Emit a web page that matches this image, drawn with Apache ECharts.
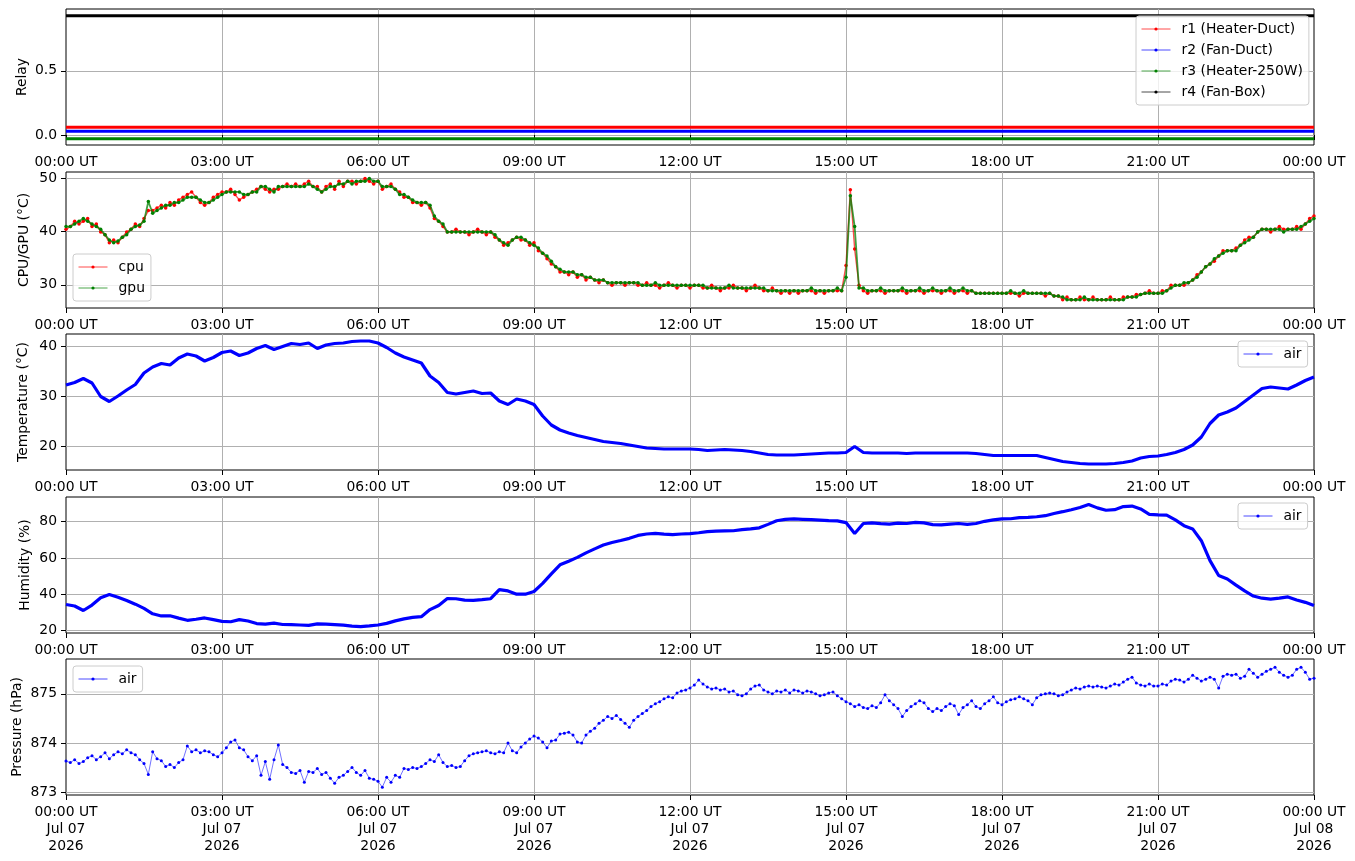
<!DOCTYPE html>
<html><head><meta charset="utf-8">
<script src="https://cdn.jsdelivr.net/npm/echarts@6/dist/echarts.min.js"></script>
<style>html,body{margin:0;padding:0;background:#fff}#c{width:1355px;height:861px}</style>
</head><body><div id="c"></div>
<script>
// ---------- DATA ----------
// sample times in minutes after 00:00 UT, Jul 07 2026
const tRelay = [0, 1440];
const t5 = Array.from({length: 289}, (_, i) => i * 5);
const t10 = Array.from({length: 145}, (_, i) => i * 10);

const relayNames = ['r1 (Heater-Duct)', 'r2 (Fan-Duct)', 'r3 (Heater-250W)', 'r4 (Fan-Box)'];
const r1 = [0.06, 0.06];
const r2 = [0.03, 0.03];
const r3 = [-0.03, -0.03];
const r4 = [0.93, 0.93];

const cpu = [
40.4,40.9,41.9,41.4,41.9,42.4,40.9,41.4,39.9,39.4,37.9,38.4,
37.9,38.9,39.9,40.4,41.4,40.9,42.4,43.9,43.9,44.4,44.9,44.4,
45.4,44.9,45.9,46.4,46.9,47.4,46.4,45.4,44.9,45.4,46.4,46.9,
47.4,47.4,47.9,46.9,45.9,46.4,46.9,47.4,47.9,48.4,47.9,47.4,
47.9,47.9,48.4,48.9,48.4,48.9,48.4,48.9,49.4,48.4,48.4,47.4,
48.4,48.9,47.9,49.4,48.4,49.4,49.4,48.9,49.4,49.9,49.4,48.9,
49.4,47.9,48.4,48.9,47.9,47.4,46.4,46.4,45.4,45.4,44.9,45.4,
44.4,42.4,41.9,40.9,39.9,39.9,40.4,39.9,39.9,39.4,39.9,40.4,
39.9,39.4,39.9,38.9,38.4,37.4,37.9,38.4,38.9,38.4,38.4,37.4,
37.9,36.4,35.9,34.9,33.9,33.4,32.4,32.4,31.9,32.4,31.4,31.9,
30.9,31.4,30.9,30.4,30.9,30.4,29.9,30.4,30.4,29.9,30.4,30.4,
29.9,29.9,30.4,29.9,29.9,29.4,29.9,30.4,29.9,29.4,29.9,29.9,
29.4,29.9,29.9,29.4,29.4,29.9,29.4,28.9,29.4,29.4,29.9,29.4,
29.4,28.9,29.4,29.9,29.4,28.9,28.9,29.4,28.9,28.4,28.9,28.4,
28.9,28.4,28.9,28.9,28.9,28.4,28.9,28.4,28.9,28.9,28.9,28.9,
33.6,47.8,36.7,29.9,28.9,28.4,28.9,28.9,28.9,28.4,28.9,28.9,
28.9,28.9,28.4,28.9,28.9,28.9,28.4,28.9,28.9,28.9,28.4,28.9,
28.9,28.4,28.9,28.9,28.4,28.9,28.4,28.4,28.4,28.4,28.4,28.4,
28.4,28.4,28.4,28.4,27.9,28.4,28.4,28.4,28.4,28.4,27.9,28.4,
27.9,27.9,27.2,27.7,27.2,27.2,27.7,27.2,27.2,27.7,27.2,27.2,
27.2,27.7,27.2,27.2,27.7,27.7,27.7,28.2,28.2,28.4,28.9,28.4,
28.4,28.9,28.9,29.9,29.9,29.9,29.9,30.4,30.9,31.9,32.4,33.4,
33.9,34.4,35.4,36.4,36.4,36.4,36.9,37.4,38.4,38.9,38.9,39.9,
40.4,40.4,39.9,40.4,40.9,40.4,40.4,40.4,40.9,40.4,41.4,42.4,
42.9];

const gpu = [
40.9,40.9,41.4,41.9,42.4,41.9,41.4,40.9,40.4,39.4,38.4,37.9,
38.2,38.9,39.4,40.4,40.9,41.2,41.9,45.6,43.4,43.9,44.4,44.9,
44.9,45.4,45.4,45.9,46.4,46.4,46.4,45.9,45.4,45.4,45.9,46.4,
46.9,47.4,47.4,47.4,47.4,46.9,46.9,47.4,47.4,48.4,48.4,47.9,
47.4,48.4,48.4,48.4,48.4,48.4,48.4,48.4,48.9,48.4,47.9,47.4,
47.9,48.4,48.4,48.9,48.9,49.4,48.9,49.4,49.4,49.4,49.9,49.4,
49.4,48.4,48.4,48.4,47.9,46.9,46.9,46.4,45.9,45.4,45.4,45.4,
44.9,42.9,41.9,41.4,39.9,39.9,39.9,39.9,39.9,39.9,39.9,39.9,
39.9,39.9,39.9,39.4,38.4,37.9,37.4,38.4,38.9,38.9,38.4,37.9,
37.4,36.9,35.9,35.4,34.4,33.4,32.9,32.4,32.4,32.4,31.9,31.9,
31.4,31.4,30.9,30.9,30.9,30.4,30.4,30.4,30.4,30.4,30.4,30.4,
30.4,29.9,29.9,29.9,30.4,29.9,29.9,29.9,29.9,29.9,29.9,29.9,
29.9,29.9,29.9,29.9,29.4,29.4,29.4,29.4,29.4,29.9,29.4,29.4,
29.4,29.4,29.4,29.4,29.4,29.4,28.9,28.9,28.9,28.9,28.9,28.9,
28.9,28.9,28.9,28.9,29.4,28.9,28.9,28.9,28.9,28.9,29.4,28.9,
31.4,46.7,40.9,29.4,29.4,28.9,28.9,28.9,29.4,28.9,28.9,28.9,
28.9,29.4,28.9,28.9,28.9,29.4,28.9,28.9,29.4,28.9,28.9,28.9,
29.4,28.9,28.9,29.4,28.9,28.9,28.4,28.4,28.4,28.4,28.4,28.4,
28.4,28.4,28.9,28.4,28.4,28.9,28.4,28.4,28.4,28.4,28.4,28.4,
27.9,27.9,27.7,27.2,27.2,27.2,27.2,27.7,27.2,27.2,27.2,27.2,
27.2,27.2,27.2,27.2,27.2,27.7,27.7,27.7,28.2,28.4,28.4,28.4,
28.4,28.4,28.9,29.4,29.9,29.9,30.4,30.4,30.9,31.4,32.4,33.4,
33.9,34.9,35.4,35.9,36.4,36.4,36.4,37.4,37.9,38.4,38.9,39.9,
40.4,40.4,40.4,40.4,40.4,39.9,40.4,40.4,40.4,40.9,41.4,41.9,
42.4];

const airTemp = [
32.2,32.7,33.5,32.6,29.9,28.9,30.0,31.2,32.3,34.6,35.8,36.5,
36.2,37.6,38.4,38.0,37.0,37.7,
38.7,39.0,38.1,38.6,39.5,40.1,
39.3,39.9,40.5,40.3,40.6,39.5,
40.2,40.5,40.6,40.9,41.0,41.0,
40.6,39.7,38.6,37.8,37.2,36.6,
34.0,32.7,30.7,30.4,30.7,31.0,
30.5,30.6,29.0,28.3,29.4,29.0,
28.3,26.0,24.2,23.2,22.6,22.1,
21.7,21.3,20.9,20.7,20.5,20.2,
19.9,19.6,19.5,19.4,19.4,19.4,
19.4,19.3,19.1,19.2,19.3,19.2,
19.1,18.9,18.6,18.3,18.2,18.2,
18.2,18.3,18.4,18.5,18.6,18.6,
18.7,19.9,18.7,18.6,18.6,18.6,
18.6,18.5,18.6,18.6,18.6,18.6,
18.6,18.6,18.6,18.5,18.3,18.1,
18.1,18.1,18.1,18.1,18.1,17.7,
17.3,16.9,16.7,16.5,16.4,16.4,
16.4,16.5,16.7,17.0,17.6,17.9,
18.0,18.3,18.7,19.3,20.2,21.8,
24.5,26.2,26.8,27.6,28.9,30.2,
31.5,31.8,31.6,31.4,32.2,33.1,
33.8];

const airHum = [
34.3,33.5,31.0,34.0,38.0,39.8,
38.3,36.5,34.5,32.2,29.2,28.0,
28.1,26.8,25.6,26.2,26.9,26.0,
25.0,24.8,26.0,25.2,23.8,23.5,
24.0,23.3,23.2,23.0,22.8,23.6,
23.5,23.2,22.9,22.4,22.1,22.5,
23.0,23.9,25.3,26.4,27.2,27.6,
31.5,33.8,37.6,37.5,36.7,36.6,
37.0,37.5,42.5,41.8,40.0,40.0,
41.5,46.0,51.2,56.2,58.2,60.3,
62.8,65.0,67.1,68.5,69.6,70.8,
72.4,73.2,73.5,73.1,72.8,73.2,
73.4,73.9,74.5,74.8,74.9,75.0,
75.6,76.0,76.6,78.5,80.5,81.3,
81.5,81.3,81.1,80.9,80.6,80.4,
79.5,73.5,79.0,79.3,78.9,78.6,
79.2,79.0,79.6,79.3,78.4,78.2,
78.6,79.0,78.5,79.0,80.2,81.0,
81.5,81.6,82.2,82.4,82.7,83.3,
84.5,85.5,86.6,87.8,89.5,87.6,
86.3,86.6,88.3,88.6,87.0,84.0,
83.7,83.6,81.0,77.8,76.0,69.5,
58.5,50.3,48.4,45.0,41.8,39.0,
37.8,37.3,37.8,38.5,36.8,35.5,
33.7];

const airPres = [
873.63,873.60,873.66,873.58,873.62,873.70,873.74,873.66,873.72,873.80,873.68,873.76,
873.82,873.78,873.86,873.80,873.76,873.66,873.58,873.36,873.82,873.68,873.64,873.52,
873.56,873.50,873.60,873.66,873.94,873.82,873.86,873.80,873.84,873.82,873.76,873.72,
873.80,873.90,874.02,874.06,873.90,873.86,873.72,873.64,873.74,873.34,873.62,873.26,
873.66,873.96,873.56,873.50,873.40,873.38,873.44,873.20,873.42,873.40,873.48,873.36,
873.40,873.28,873.18,873.30,873.34,873.42,873.50,873.40,873.34,873.44,873.28,873.26,
873.22,873.10,873.30,873.20,873.34,873.30,873.48,873.46,873.50,873.48,873.52,873.58,
873.66,873.62,873.76,873.60,873.52,873.54,873.50,873.52,873.64,873.74,873.78,873.80,
873.82,873.84,873.80,873.78,873.82,873.80,874.00,873.84,873.80,873.92,874.00,874.08,
874.14,874.10,874.02,873.90,874.04,874.06,874.18,874.20,874.22,874.16,874.02,874.00,
874.16,874.24,874.30,874.40,874.46,874.54,874.50,874.56,874.48,874.40,874.32,874.46,
874.54,874.60,874.66,874.74,874.80,874.84,874.90,874.94,874.92,875.02,875.06,875.08,
875.12,875.18,875.28,875.20,875.14,875.10,875.12,875.08,875.10,875.04,875.06,874.98,
874.96,875.00,875.10,875.16,875.18,875.08,875.04,875.00,875.06,875.04,875.08,875.02,
875.08,875.06,875.02,875.06,875.04,875.00,874.96,874.98,875.02,875.04,874.96,874.90,
874.84,874.80,874.74,874.78,874.72,874.70,874.76,874.72,874.82,874.98,874.86,874.78,
874.70,874.54,874.66,874.74,874.80,874.86,874.82,874.70,874.64,874.70,874.66,874.74,
874.80,874.76,874.58,874.72,874.78,874.86,874.74,874.70,874.80,874.86,874.94,874.82,
874.78,874.84,874.88,874.90,874.94,874.90,874.86,874.78,874.92,874.98,875.00,875.02,
875.00,874.96,874.98,875.04,875.08,875.12,875.10,875.14,875.16,875.14,875.16,875.14,
875.12,875.16,875.20,875.18,875.24,875.30,875.34,875.22,875.18,875.16,875.20,875.16,
875.16,875.20,875.18,875.26,875.30,875.28,875.24,875.30,875.38,875.32,875.26,875.30,
875.34,875.30,875.12,875.36,875.40,875.38,875.40,875.32,875.36,875.50,875.42,875.34,
875.40,875.46,875.50,875.54,875.44,875.38,875.34,875.38,875.50,875.54,875.44,875.30,
875.32];

// axis tick values
const relayTicks = [0, 0.5];
const cpuTicks = [30, 40, 50];
const tempTicks = [20, 30, 40];
const humTicks = [20, 40, 60, 80];
const presTicks = [873, 874, 875];

// ---------- CHART ----------
const FONT = 'DejaVu Sans';
const FS = 13.9;
const pairs = (t, v) => t.map((x, i) => [x, v[i]]);
const pad2 = n => (n < 10 ? '0' : '') + n;
const timeLabel = v => pad2(Math.floor(v / 60) % 24) + ':' + pad2(v % 60) + ' UT';
const dateLabel = v => timeLabel(v) + '\n' + (v >= 1440 ? 'Jul 08' : 'Jul 07') + '\n2026';

const tops = [9, 172, 334, 497, 659];
const grid = tops.map(t => ({
  left: 66, right: 41, top: t, height: 136,
  show: true, borderColor: '#000', borderWidth: 1, backgroundColor: 'transparent'
}));

const xAxis = tops.map((t, i) => ({
  type: 'value', gridIndex: i, min: 0, max: 1440, interval: 180,
  axisLine: {show: false},
  axisTick: {show: true, length: 5, lineStyle: {color: '#000'}},
  axisLabel: {
    color: '#000', fontFamily: FONT, fontSize: FS, margin: 9, lineHeight: 17,
    showMinLabel: true, showMaxLabel: true, hideOverlap: false,
    formatter: i === 4 ? dateLabel : timeLabel
  },
  splitLine: {show: true, showMinLine: false, showMaxLine: false,
    lineStyle: {color: '#b0b0b0', width: 1}}
}));

function yAx(i, min, max, ticks, name, gap, fmt) {
  return {
    type: 'value', gridIndex: i, min: min, max: max, scale: true,
    name: name, nameLocation: 'middle', nameGap: gap, nameRotate: 90,
    nameMoveOverlap: false,
    nameTextStyle: {color: '#000', fontFamily: FONT, fontSize: FS},
    axisLine: {show: false},
    axisTick: {show: true, length: 5, customValues: ticks, lineStyle: {color: '#000'}},
    axisLabel: {color: '#000', fontFamily: FONT, fontSize: FS, margin: 9,
      customValues: ticks, formatter: fmt || (v => String(Math.round(v)))},
    splitLine: {show: true, lineStyle: {color: '#b0b0b0', width: 1}}
  };
}
const yAxis = [
  yAx(0, -0.078, 0.982, relayTicks, 'Relay', 37, v => v.toFixed(1)),
  yAx(1, 25.66, 51.13, cpuTicks, 'CPU/GPU (°C)', 35),
  yAx(2, 15.2, 42.4, tempTicks, 'Temperature (°C)', 36),
  yAx(3, 18.6, 93.6, humTicks, 'Humidity (%)', 34),
  yAx(4, 872.94, 875.71, presTicks, 'Pressure (hPa)', 42)
];

function lineSeries(name, idx, t, v, color, lw, sym, lineOpacity, z) {
  return {
    type: 'line', name: name, xAxisIndex: idx, yAxisIndex: idx,
    data: pairs(t, v), symbol: 'circle', symbolSize: sym || 3,
    showSymbol: !!sym, animation: false, z: z || 2,
    lineStyle: {color: color, width: lw, opacity: lineOpacity == null ? 1 : lineOpacity},
    itemStyle: {color: color},
    emphasis: {disabled: true}
  };
}

const series = [
  lineSeries(relayNames[0], 0, tRelay, r1, '#ff0000', 3),
  lineSeries(relayNames[1], 0, tRelay, r2, '#0000ff', 3),
  lineSeries(relayNames[2], 0, tRelay, r3, '#008000', 3),
  lineSeries(relayNames[3], 0, tRelay, r4, '#000000', 3),
  lineSeries('cpu', 1, t5, cpu, '#ff0000', 1.4, 3.5, 0.7, 2),
  lineSeries('gpu', 1, t5, gpu, '#008000', 1.8, 3.5, 0.75, 3),
  lineSeries('air', 2, t10, airTemp, '#0000ff', 3.2),
  lineSeries('air', 3, t10, airHum, '#0000ff', 3.2),
  lineSeries('air', 4, t5, airPres, '#0000ff', 0.8, 3, 0.7)
];

function leg(names, left, top) {
  return {
    data: names, orient: 'vertical', left: left, top: top,
    itemWidth: 29, itemHeight: 4, itemGap: 5,
    padding: [5, 6, 5, 5],
    backgroundColor: 'rgba(255,255,255,0.8)', borderColor: '#cccccc',
    borderWidth: 1, borderRadius: 3,
    textStyle: {color: '#000', fontFamily: FONT, fontSize: FS, lineHeight: 16, padding: [0, 0, 0, 6]},
    lineStyle: {width: 1, opacity: 0.7},
    selectedMode: false
  };
}
const legend = [
  leg(relayNames, 1136, 16),
  leg(['cpu', 'gpu'], 73, 254),
  leg(['air'], 1238, 341),
  leg(['air'], 1238, 503),
  leg(['air'], 73, 666)
];

const chart = echarts.init(document.getElementById('c'), null, {renderer: 'canvas'});
chart.setOption({
  backgroundColor: '#ffffff',
  animation: false,
  textStyle: {fontFamily: FONT},
  grid: grid, xAxis: xAxis, yAxis: yAxis, legend: legend, series: series
});
</script>
</body></html>
